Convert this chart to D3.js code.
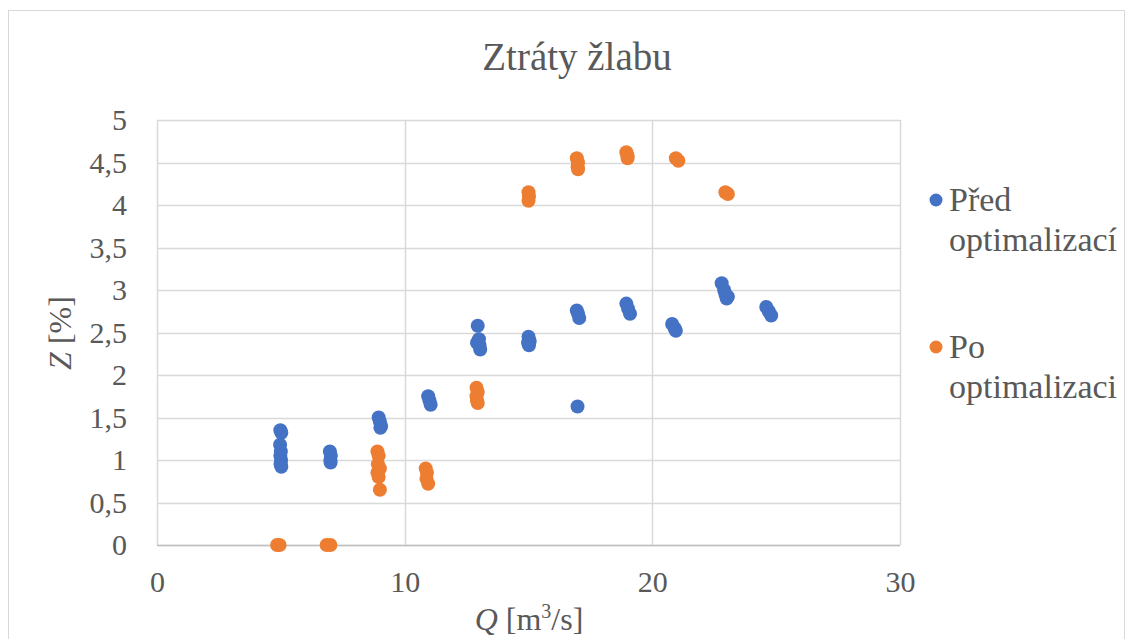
<!DOCTYPE html>
<html><head><meta charset="utf-8">
<script src="https://cdn.jsdelivr.net/npm/d3@7"></script>
<style>body{margin:0;background:#fff;} svg{display:block;}</style>
</head><body><svg id="c" width="1132" height="639"></svg>
<script>
const title = "Ztráty žlabu";
const seriesNames = ["Před optimalizací", "Po optimalizaci"];
const xTicks = [0, 10, 20, 30];
const yTicks = [0, 0.5, 1, 1.5, 2, 2.5, 3, 3.5, 4, 4.5, 5];
const yTickLabels = ["0", "0,5", "1", "1,5", "2", "2,5", "3", "3,5", "4", "4,5", "5"];
// Před optimalizací
const beforeQ = [4.98,5.02,4.97,5.0,4.98,5.01,4.99,5.02, 6.98,7.02,7.0,7.01, 8.95,9.0,9.05,9.02, 10.95,11.0,11.05, 12.95,13.0,12.92,13.02,13.05, 15.0,15.05,14.98,15.02, 16.95,17.0,17.05, 16.98, 18.95,19.02,19.1, 20.8,20.9,20.95, 22.8,22.9,22.95,23.05,23.0, 24.6,24.7,24.8];
const beforeZ = [1.35,1.32,1.18,1.1,1.05,1.0,0.95,0.92, 1.1,1.05,1.0,0.97, 1.5,1.45,1.4,1.38, 1.75,1.7,1.65, 2.58,2.42,2.38,2.35,2.3, 2.45,2.4,2.38,2.35, 2.76,2.72,2.67, 1.63, 2.84,2.78,2.72, 2.6,2.55,2.52, 3.08,3.0,2.95,2.92,2.9, 2.8,2.75,2.7];
// Po optimalizaci
const afterQ = [4.85,4.95, 6.85,7.0, 8.9,8.95,8.92,9.0,8.9,8.95,9.0, 10.85,10.9,10.88,10.95, 12.9,12.95,12.9,12.92,12.95, 15.0,15.02,15.0, 16.95,17.0,16.98,17.0, 18.95,19.0,19.0, 20.95,21.05, 22.95,23.05];
const afterZ = [0,0, 0,0, 1.1,1.05,0.95,0.9,0.85,0.8,0.65, 0.9,0.85,0.78,0.72, 1.85,1.8,1.75,1.7,1.67, 4.15,4.1,4.05, 4.55,4.5,4.45,4.42, 4.62,4.58,4.55, 4.55,4.52, 4.15,4.13];
const colors = ["#4472C4", "#ED7D31"];

const FONT = '"Liberation Serif", "Times New Roman"';
const TXT = "#595959";
const svg = d3.select("#c");
// chart border
svg.append("rect").attr("x", 8.5).attr("y", 10.5).attr("width", 1116).attr("height", 640)
  .attr("fill", "#fff").attr("stroke", "#D9D9D9").attr("stroke-width", 1);

const pL = 157, pR = 900, pT = 120, pB = 545;
const x = d3.scaleLinear().domain([0, 30]).range([pL, pR]);
const y = d3.scaleLinear().domain([0, 5]).range([pB, pT]);

// gridlines
svg.append("g").selectAll("line").data(yTicks).join("line")
  .attr("x1", pL).attr("x2", pR)
  .attr("y1", d => Math.round(y(d)) + 0.5).attr("y2", d => Math.round(y(d)) + 0.5)
  .attr("stroke", "#D9D9D9").attr("stroke-width", 1.5);
svg.append("g").selectAll("line").data(xTicks).join("line")
  .attr("y1", pT).attr("y2", pB)
  .attr("x1", d => Math.round(x(d)) + 0.5).attr("x2", d => Math.round(x(d)) + 0.5)
  .attr("stroke", "#D9D9D9").attr("stroke-width", 1.5);

// axes with d3
const yAxis = d3.axisLeft(y).tickValues(yTicks).tickFormat((d, i) => yTickLabels[i]).tickSize(0).tickPadding(30);
const gy = svg.append("g").attr("transform", `translate(${pL},0)`).call(yAxis);
gy.select(".domain").remove();
gy.attr("font-family", FONT).attr("font-size", 30);
gy.selectAll("text").attr("fill", TXT).attr("font-family", FONT).attr("font-size", 30);

const xAxis = d3.axisBottom(x).tickValues(xTicks).tickFormat(d3.format("d")).tickSize(0).tickPadding(26);
const gx = svg.append("g").attr("transform", `translate(0,${pB})`).call(xAxis);
gx.select(".domain").remove();
gx.attr("font-family", FONT).attr("font-size", 30);
gx.selectAll("text").attr("fill", TXT).attr("font-family", FONT).attr("font-size", 30);

// x axis line
svg.append("line").attr("x1", pL).attr("x2", pR).attr("y1", pB + 0.5).attr("y2", pB + 0.5)
  .attr("stroke", "#BFBFBF").attr("stroke-width", 1.5);

// points
const sets = [[beforeQ, beforeZ], [afterQ, afterZ]];
sets.forEach((s, k) => {
  svg.append("g").selectAll("circle").data(s[0].map((q, i) => [q, s[1][i]])).join("circle")
    .attr("cx", d => x(d[0])).attr("cy", d => y(d[1])).attr("r", 7)
    .attr("fill", colors[k]);
});

// title
svg.append("text").attr("x", 577).attr("y", 70).attr("text-anchor", "middle")
  .attr("font-family", FONT).attr("font-size", 39).attr("fill", TXT).text(title);

// y axis title
const yt = svg.append("text").attr("transform", "translate(71,333) rotate(-90)").attr("text-anchor", "middle")
  .attr("font-family", FONT).attr("font-size", 32).attr("fill", TXT);
yt.append("tspan").attr("font-style", "italic").text("Z");
yt.append("tspan").text(" [%]");

// x axis title
const xt = svg.append("text").attr("x", 529).attr("y", 630).attr("text-anchor", "middle")
  .attr("font-family", FONT).attr("font-size", 32).attr("fill", TXT);
xt.append("tspan").attr("font-style", "italic").text("Q");
xt.append("tspan").text(" [m");
xt.append("tspan").attr("font-size", 20).attr("dy", -12).text("3");
xt.append("tspan").attr("dy", 12).text("/s]");

// legend
const legY = [200, 347];
const legLines = [["Před", "optimalizací"], ["Po", "optimalizaci"]];
legY.forEach((ly, k) => {
  svg.append("circle").attr("cx", 936).attr("cy", ly).attr("r", 6.5).attr("fill", colors[k]);
  const t = svg.append("text").attr("x", 949).attr("y", ly + 11).attr("font-family", FONT)
    .attr("font-size", 34).attr("fill", TXT);
  t.append("tspan").attr("x", 949).text(legLines[k][0]);
  t.append("tspan").attr("x", 949).attr("dy", 40).text(legLines[k][1]);
});
</script></body></html>
